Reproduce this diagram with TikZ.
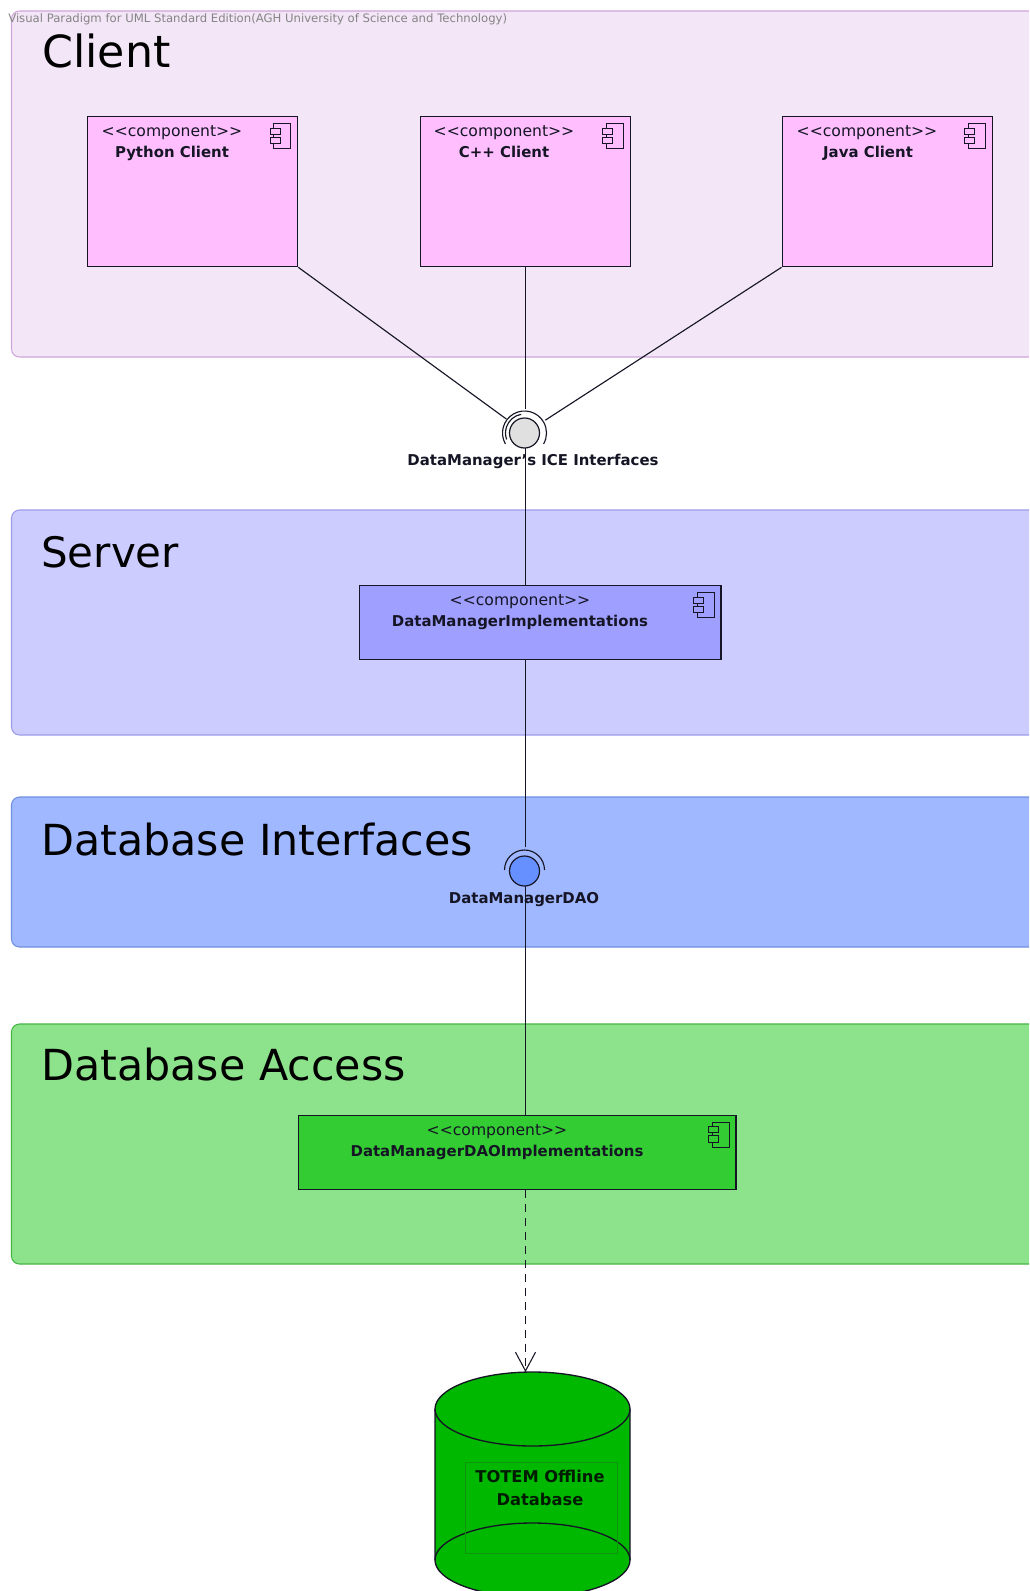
\documentclass[tikz,border=0pt]{standalone}
\usepackage{fontspec}
\setmainfont{DejaVu Sans}
\usetikzlibrary{arrows.meta,calc}
\definecolor{clientfill}{HTML}{F3E6F7}\definecolor{clientline}{HTML}{CFA6DC}
\definecolor{serverfill}{HTML}{CCCCFF}\definecolor{serverline}{HTML}{9C9CE8}
\definecolor{ifacefill}{HTML}{A0B8FF}\definecolor{ifaceline}{HTML}{7090E0}
\definecolor{accessfill}{HTML}{8DE38B}\definecolor{accessline}{HTML}{45B545}
\definecolor{clientcomp}{HTML}{FFBFFF}\definecolor{servercomp}{HTML}{9F9FFF}
\definecolor{accesscomp}{HTML}{33CC33}\definecolor{dbgreen}{HTML}{00B800}
\definecolor{dbrect}{HTML}{0A950A}\definecolor{inkc}{HTML}{151525}
\definecolor{balliface}{HTML}{6690FF}\definecolor{ballice}{HTML}{E0E0E0}
\tikzset{
  region/.style={draw=#1line,fill=#1fill,line width=0.8pt,rounded corners=6pt},
  comp/.style={draw=inkc,fill=#1,line width=1pt,anchor=north west,inner sep=0pt},
  conn/.style={draw=inkc,line width=0.85pt},
  title/.style={anchor=base west,inner sep=0pt,text=black},
  stereo/.style={anchor=base,inner sep=0pt,font=\fontsize{11.7}{12}\selectfont,text=inkc},
  cname/.style={anchor=base,inner sep=0pt,font=\fontsize{11.2}{12}\selectfont\bfseries,text=inkc},
  dbname/.style={anchor=base,inner sep=0pt,font=\fontsize{12.2}{14}\selectfont\bfseries,text=black!85!dbgreen},
  ball/.style={circle,draw=inkc,line width=0.9pt,minimum size=22.5pt,inner sep=0pt,xshift=-0.75pt},
  halo/.style={circle,minimum size=35pt,inner sep=0pt},
  arcline/.style={draw=inkc,line width=0.85pt},
  iconline/.style={draw=inkc,line width=0.7pt},
}
\newcommand{\drawicon}[2]{%
  \draw[iconline] ($(#1.north east)+(-24.7,7.7)$) rectangle ($(#1.north east)+(-7.5,32.7)$);
  \draw[iconline,fill=#2] ($(#1.north east)+(-28.3,12.3)$) rectangle ($(#1.north east)+(-18.3,18.3)$);
  \draw[iconline,fill=#2] ($(#1.north east)+(-28.3,21)$) rectangle ($(#1.north east)+(-18.3,27.6)$);
}
\begin{document}
\begin{tikzpicture}[x=0.75pt,y=-0.75pt]
\useasboundingbox (0,0) rectangle (1029,1591);
\clip (0,0) rectangle (1029,1591);
\fill[white] (0,0) rectangle (1029,1591);
% regions
\path[region=client] (11.5,11) rectangle (1060,357);
\path[region=server] (11.5,510) rectangle (1060,735);
\path[region=iface] (11.5,797) rectangle (1060,947);
\path[region=access] (11.5,1024) rectangle (1060,1264);
% watermark
\node[anchor=base west,inner sep=0pt,font=\fontsize{8.75}{10}\selectfont,text=black!48] (mark) at (8,23) {Visual Paradigm for UML Standard Edition(AGH University of Science and Technology)};
% titles
\node[title,font=\fontsize{33.2}{34}\selectfont] (tclient) at (42,68) {Client};
\node[title,font=\fontsize{31.5}{34}\selectfont] (tserver) at (41,567) {Server};
\node[title,font=\fontsize{32.1}{34}\selectfont] (tiface) at (41,855.5) {Database Interfaces};
\node[title,font=\fontsize{32.1}{34}\selectfont] (taccess) at (41,1080.5) {Database Access};
% components
\node[comp=clientcomp,minimum width=157.5pt,minimum height=112.5pt] (python) at (87,116) {};
\node[comp=clientcomp,minimum width=157.5pt,minimum height=112.5pt] (cpp) at (419.5,116) {};
\node[comp=clientcomp,minimum width=157.5pt,minimum height=112.5pt] (java) at (781.5,116) {};
\node[comp=servercomp,minimum width=271pt,minimum height=55.5pt] (impl) at (359,585) {};
\node[comp=accesscomp,minimum width=328pt,minimum height=55.5pt] (daoimpl) at (298,1114.5) {};
\drawicon{python}{clientcomp}
\drawicon{cpp}{clientcomp}
\drawicon{java}{clientcomp}
\drawicon{impl}{servercomp}
\drawicon{daoimpl}{accesscomp}
% interface nodes
\node[halo] (icehalo) at (525.5,433) {};
\node[halo] (daohalo) at (525.5,871) {};
\coordinate (dbtop) at (525.5,1372);
% connectors
\draw[conn] (python.south east) -- (icehalo);
\draw[conn] (icehalo.center |- cpp.south) -- (icehalo.north);
\draw[conn] (java.south west) -- (icehalo);
\draw[conn] (icehalo.center) -- (icehalo.center |- impl.north);
\draw[conn] (daohalo.center |- impl.south) -- (daohalo.north);
\draw[conn] (daohalo.center) -- (daohalo.center |- daoimpl.north);
% balls and arcs
\node[ball,fill=ballice] (iceball) at (icehalo.center) {};
\node[ball,fill=balliface] (daoball) at (daohalo.center) {};
\draw[arcline] ($(iceball.center)+(-19.05,11)$) arc[start angle=150,end angle=390,radius=22];
\draw[arcline] ($(iceball.center)+(-3.3,-18.7)$) arc[start angle=-100,end angle=-200,radius=19];
\draw[arcline] ($(daoball.center)+(-20,-1)$) arc[start angle=180,end angle=360,radius=20];
% component labels
\node[stereo] (s1) at (172,136.5) {<{}<component>{}>};
\node[cname] (n1) at (172,157) {Python Client};
\node[stereo] (s2) at (504,136.5) {<{}<component>{}>};
\node[cname] (n2) at (504,157) {C++ Client};
\node[stereo] (s3) at (867,136.5) {<{}<component>{}>};
\node[cname] (n3) at (868,157) {Java Client};
\node[stereo] (s4) at (520,605.5) {<{}<component>{}>};
\node[cname] (n4) at (520,626) {DataManagerImplementations};
\node[stereo] (s5) at (497,1135.5) {<{}<component>{}>};
\node[cname] (n5) at (497,1156) {DataManagerDAOImplementations};
\node[cname] (icelabel) at (533,465) {DataManager's ICE Interfaces};
\node[cname] (daolabel) at (524,903) {DataManagerDAO};
% database
\draw[draw=inkc,fill=dbgreen,line width=1pt] (435,1409) -- (435,1560) arc[start angle=180,end angle=0,x radius=97.5,y radius=37] -- (630,1409) arc[start angle=0,end angle=-180,x radius=97.5,y radius=37] -- cycle;
\draw[draw=inkc,line width=1pt] (435,1409) arc[start angle=180,end angle=0,x radius=97.5,y radius=37];
\draw[draw=inkc,line width=1pt] (435,1560) arc[start angle=180,end angle=360,x radius=97.5,y radius=37];
\node[draw=dbrect,line width=0.5pt,anchor=north west,minimum width=114pt,minimum height=68.25pt,inner sep=0pt] (dbrectn) at (465,1462) {};
\node[dbname] (db1) at (540,1482) {TOTEM Offline};
\node[dbname] (db2) at (540,1505) {Database};
\draw[conn,dash pattern=on 6pt off 4.5pt,-{Straight Barb[length=14pt,width=15pt,line width=0.8pt]}] (dbtop |- daoimpl.south) -- (dbtop);
\end{tikzpicture}
\end{document}
